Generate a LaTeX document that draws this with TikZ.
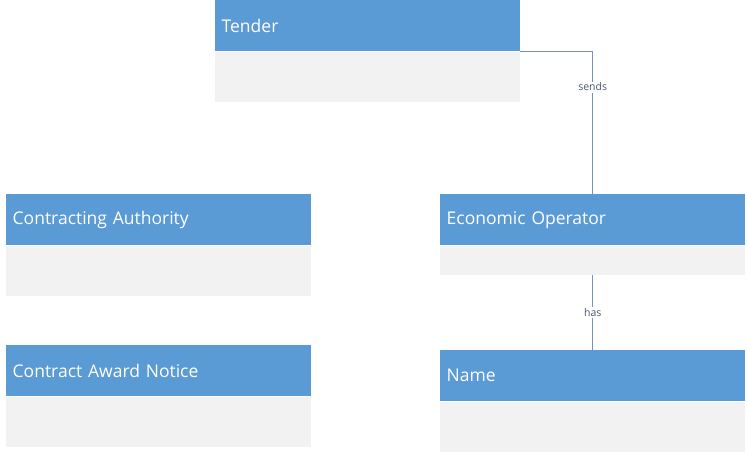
\documentclass[tikz,border=0pt]{standalone}
\usepackage{fontspec}
\setmainfont{Open Sans}
\definecolor{hdrblue}{HTML}{5B9BD5}
\definecolor{bodygray}{HTML}{F2F2F2}
\definecolor{linkcol}{HTML}{7393B8}
\definecolor{labelcol}{HTML}{4A5A70}
\begin{document}
\begin{tikzpicture}[x=1pt,y=-1pt,
  hdrbox/.style={fill=hdrblue, draw=none, anchor=north west, inner xsep=6.5pt, inner ysep=0pt,
    text width=292pt, minimum height=51pt, align=left, text=white,
    font=\fontsize{17.5}{20}\selectfont},
  bodybox/.style={fill=bodygray, draw=none, anchor=north west, inner sep=0pt,
    minimum width=305pt},
  linkline/.style={draw=linkcol, line width=0.8pt},
  linklabel/.style={fill=white, inner sep=1.5pt, text=labelcol, font=\fontsize{10.5}{12}\selectfont}]
\useasboundingbox (0,0) rectangle (747,452);
% Tender
\node[hdrbox] (tender) at (215,0) {Tender};
\node[bodybox, minimum height=50pt] (tenderb) at (tender.south west) {};
% Contracting Authority
\node[hdrbox] (ca) at (6,194) {Contracting Authority};
\node[bodybox, minimum height=50pt] (cab) at (ca.south west) {};
% Contract Award Notice
\node[hdrbox] (can) at (6,345) {Contract Award Notice};
\node[bodybox, minimum height=50pt] (canb) at (can.south west) {};
% Economic Operator
\node[hdrbox] (eo) at (440,194) {Economic Operator};
\node[bodybox, minimum height=29pt] (eob) at (eo.south west) {};
% Name
\node[hdrbox] (name) at (440,350) {Name};
\node[bodybox, minimum height=50pt] (nameb) at (name.south west) {};
% connectors
\draw[linkline] (tender.south east) -| node[linklabel, pos=0.625] {sends} (eo.north);
\draw[linkline] (eob.south) -- node[linklabel] {has} (name.north);
\end{tikzpicture}
\end{document}
